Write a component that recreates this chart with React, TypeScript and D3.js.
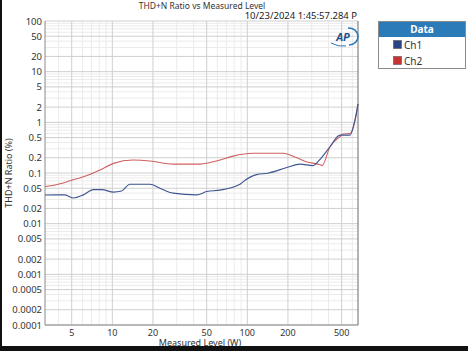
import React from "react";
import * as d3 from "d3";

const ch1W = [3.17, 4.46, 5.14, 6.1, 7.23, 8.35, 10.2, 11.7, 13.5, 19.0, 22.5, 28.2, 42.2, 50, 62.8, 88.3, 92.9, 117, 142, 196, 246, 307, 346, 410, 486, 577, 628, 661];
const ch1V = [0.0368, 0.037, 0.032, 0.037, 0.047, 0.047, 0.042, 0.044, 0.06, 0.06, 0.05, 0.04, 0.037, 0.043, 0.046, 0.06, 0.067, 0.093, 0.099, 0.128, 0.15, 0.14, 0.186, 0.33, 0.56, 0.56, 1.1, 2.3];
const ch2W = [3.17, 3.76, 5.0, 6.1, 8.1, 10.2, 14.2, 19.0, 28.2, 44.6, 62.8, 78.4, 110, 184, 233, 277, 346, 358, 410, 486, 512, 577, 628, 661];
const ch2V = [0.054, 0.058, 0.072, 0.0845, 0.115, 0.155, 0.18, 0.173, 0.15, 0.15, 0.18, 0.215, 0.245, 0.245, 0.2, 0.165, 0.146, 0.14, 0.33, 0.52, 0.59, 0.6, 1.1, 2.3];
const xTicks = [5, 10, 20, 50, 100, 200, 500];
const yTicks = [100, 50, 20, 10, 5, 2, 1, 0.5, 0.2, 0.1, 0.05, 0.02, 0.01, 0.005, 0.002, 0.001, 0.0005, 0.0002, 0.0001];
const seriesNames = ["Ch1", "Ch2"];
const seriesColors = ["#2a4585", "#c83232"];

export default function App() {
  const W = 468, H = 351;
  const left = 45, right = 358, top = 21, bottom = 325;
  const x = d3.scaleLog().domain([3.17, 661]).range([left, right]);
  const y = d3.scaleLog().domain([0.0001, 100]).range([bottom, top]);
  const font = "'Noto Sans', 'Open Sans', sans-serif";

  const xMinor: number[] = [];
  for (let d = 1; d <= 100; d *= 10) for (let k = 1; k <= 9; k++) { const v = k * d; if (v >= 3.17 && v <= 661 && !xTicks.includes(v)) xMinor.push(v); }
  const yMinor: number[] = [];
  for (let e = -4; e <= 1; e++) for (let k = 1; k <= 9; k++) { const v = +(k * Math.pow(10, e)).toPrecision(6); if (!yTicks.some(t => Math.abs(t - v) / v < 1e-6)) yMinor.push(v); }

  const line = d3.line<[number, number]>().x(d => x(d[0])).y(d => y(d[1])).curve(d3.curveMonotoneX);
  const d1 = line(ch1W.map((w, i) => [w, ch1V[i]]));
  const d2 = line(ch2W.map((w, i) => [w, ch2V[i]]));

  return (
    <svg width={W} height={H} style={{ position: "absolute", left: 0, top: 0 }} fontFamily={font}>
      <rect x={0} y={0} width={W} height={H} fill="#fff" />
      {xMinor.map(v => <line key={"xm" + v} x1={x(v)} x2={x(v)} y1={top} y2={bottom} stroke="#ebebeb" strokeWidth={1} />)}
      {yMinor.map(v => <line key={"ym" + v} x1={left} x2={right} y1={y(v)} y2={y(v)} stroke="#ebebeb" strokeWidth={1} />)}
      {xTicks.map(v => <line key={"xt" + v} x1={x(v)} x2={x(v)} y1={top} y2={bottom} stroke="#cfcfcf" strokeWidth={1} />)}
      {yTicks.map(v => <line key={"yt" + v} x1={left} x2={right} y1={y(v)} y2={y(v)} stroke="#cfcfcf" strokeWidth={1} />)}
      <line x1={left} x2={left} y1={top} y2={bottom} stroke="#8a8a8a" />
      <line x1={left} x2={right} y1={bottom} y2={bottom} stroke="#8a8a8a" />
      <line x1={right} x2={right} y1={top} y2={bottom} stroke="#6a6a6a" />
      <path d={d2 || ""} fill="none" stroke="#cf6060" strokeWidth={1.1} />
      <path d={d1 || ""} fill="none" stroke="#3d5690" strokeWidth={1.1} />
      {yTicks.map(v => (
        <text key={"yl" + v} x={42} y={y(v) + 3.5} fontSize={9.5} textAnchor="end" fill="#333">{String(v)}</text>
      ))}
      {xTicks.map(v => (
        <text key={"xl" + v} x={x(v)} y={335.5} fontSize={9} textAnchor="middle" fill="#333">{String(v)}</text>
      ))}
      <text x={200} y={345.5} fontSize={9} textAnchor="middle" fill="#333">Measured Level (W)</text>
      <text transform="translate(12,173) rotate(-90)" fontSize={9} textAnchor="middle" fill="#333">THD+N Ratio (%)</text>
      <text x={202} y={8.5} fontSize={8.5} textAnchor="middle" fill="#333">THD+N Ratio vs Measured Level</text>
      <text x={357} y={18.5} fontSize={9.5} textAnchor="end" fill="#222">10/23/2024 1:45:57.284 P</text>
      <g>
        <text x={343} y={41} fontSize={11} fontWeight="bold" fontStyle="italic" textAnchor="middle" fill="#1c4f8f">AP</text>
        <path d="M 348 28 A 9 8 0 0 1 349 45" fill="none" stroke="#2a7ab8" strokeWidth={1.6} />
        <path d="M 331 43 Q 338 47 346 46" fill="none" stroke="#2a7ab8" strokeWidth={1} />
      </g>
      <g>
        <rect x={378.5} y={21.5} width={87} height={47} fill="#fff" stroke="#8a8a8a" />
        <rect x={379} y={22} width={86} height={15} fill="#2b7bb9" />
        <text x={422} y={33} fontSize={10} fontWeight="bold" textAnchor="middle" fill="#fff">Data</text>
        {seriesNames.map((n, i) => (
          <g key={n}>
            <rect x={393.5} y={40.5 + i * 16} width={8} height={8} fill={seriesColors[i]} stroke="#555" strokeWidth={0.6} />
            <text x={404} y={49 + i * 16} fontSize={10} fill="#333">{n}</text>
          </g>
        ))}
      </g>
      <rect x={0} y={0} width={2} height={H} fill="#111" />
      <rect x={0} y={346} width={W} height={5} fill="#111" />
    </svg>
  );
}
